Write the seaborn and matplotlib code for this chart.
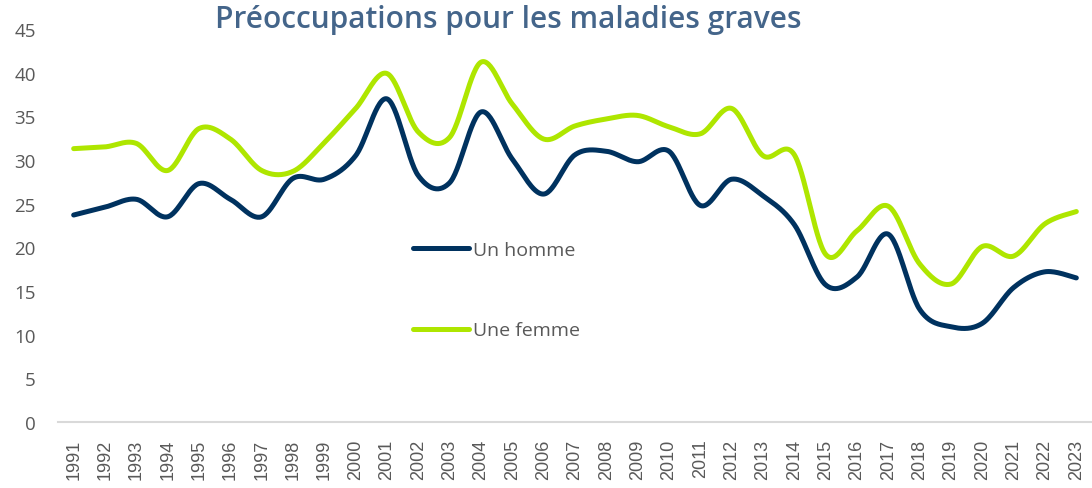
import numpy as np
import pandas as pd
import matplotlib
matplotlib.use("Agg")
import matplotlib.pyplot as plt
import seaborn as sns

years = list(range(1991, 2024))
homme = [23.7, 24.6, 25.5, 23.5, 27.3, 25.5, 23.5, 27.9, 27.8, 30.5,
         37.0, 28.2, 27.4, 35.5, 30.1, 26.1, 30.6, 31.0, 29.8, 31.0,
         24.8, 27.8, 25.9, 22.6, 15.7, 16.6, 21.5, 12.9, 10.9, 11.3,
         15.4, 17.2, 16.5]
femme = [31.3, 31.5, 31.9, 28.8, 33.6, 32.4, 28.8, 28.7, 32.0, 35.9,
         39.9, 33.2, 32.6, 41.2, 36.4, 32.4, 33.9, 34.7, 35.1, 33.8,
         33.0, 35.9, 30.5, 30.6, 19.2, 21.9, 24.7, 18.1, 15.8, 20.1,
         19.0, 22.7, 24.1]
series_names = ["Un homme", "Une femme"]
colors = ["#00325F", "#AEE600"]
title = "Préoccupations pour les maladies graves"


def smooth(x, y, n=30):
    # Excel-style smoothed line (Catmull-Rom Bezier, tension 1/6)
    x = np.asarray(x, float)
    y = np.asarray(y, float)
    px = np.concatenate([[x[0]], x, [x[-1]]])
    py = np.concatenate([[y[0]], y, [y[-1]]])
    xs, ys = [], []
    t = np.linspace(0, 1, n, endpoint=False)
    for i in range(1, len(px) - 2):
        p0 = np.array([px[i], py[i]])
        p3 = np.array([px[i + 1], py[i + 1]])
        p1 = p0 + (np.array([px[i + 1], py[i + 1]]) - np.array([px[i - 1], py[i - 1]])) / 6
        p2 = p3 - (np.array([px[i + 2], py[i + 2]]) - np.array([px[i], py[i]])) / 6
        b = ((1 - t) ** 3)[:, None] * p0 + (3 * (1 - t) ** 2 * t)[:, None] * p1 \
            + (3 * (1 - t) * t ** 2)[:, None] * p2 + (t ** 3)[:, None] * p3
        xs.extend(b[:, 0]); ys.extend(b[:, 1])
    xs.append(x[-1]); ys.append(y[-1])
    return np.array(xs), np.array(ys)


rows = []
for name, vals in zip(series_names, [homme, femme]):
    sx, sy = smooth(years, vals)
    rows.append(pd.DataFrame({"x": sx, "y": sy, "serie": name}))
df = pd.concat(rows, ignore_index=True)

sns.set_theme(style="white")
plt.rcParams["font.family"] = ["Open Sans", "DejaVu Sans"]

fig = plt.figure(figsize=(10.92, 4.89), dpi=100)
ax = fig.add_axes([58 / 1092, 1 - 423 / 489, 1 - 58 / 1092, (423 - 30) / 489])

sns.lineplot(data=df, x="x", y="y", hue="serie", palette=colors,
             hue_order=series_names, linewidth=3.6, sort=False,
             estimator=None, ax=ax, solid_capstyle="round")

ax.set_xlim(1990.5, 2023.5)
ax.set_ylim(0, 45)
ax.set_yticks(range(0, 46, 5))
ax.set_xticks(years)
ax.set_xticklabels([str(y) for y in years], rotation=90,
                   fontsize=13, color="#595959", family="Liberation Sans")
ax.tick_params(axis="y", labelsize=13.5, labelcolor="#595959", length=0, pad=16)
ax.tick_params(axis="x", length=0, pad=12)
ax.set_xlabel("")
ax.set_ylabel("")
for s in ["top", "right", "left"]:
    ax.spines[s].set_visible(False)
ax.spines["bottom"].set_color("#D9D9D9")
ax.spines["bottom"].set_linewidth(1.5)

leg = ax.legend(loc="center left", bbox_to_anchor=(0.343, 0.335),
                frameon=False, fontsize=14, labelspacing=3.2,
                handlelength=2.9, handletextpad=0.2, borderpad=0,
                borderaxespad=0)
for t in leg.get_texts():
    t.set_color("#595959")
for h in leg.get_lines():
    h.set_linewidth(3.6)
    h.set_solid_capstyle("round")

fig.text(508 / 1092, 1 - 20 / 489, title, ha="center", va="center",
         fontsize=21.5, fontweight="semibold", color="#44658A")

fig.savefig("out.png", dpi=100)
